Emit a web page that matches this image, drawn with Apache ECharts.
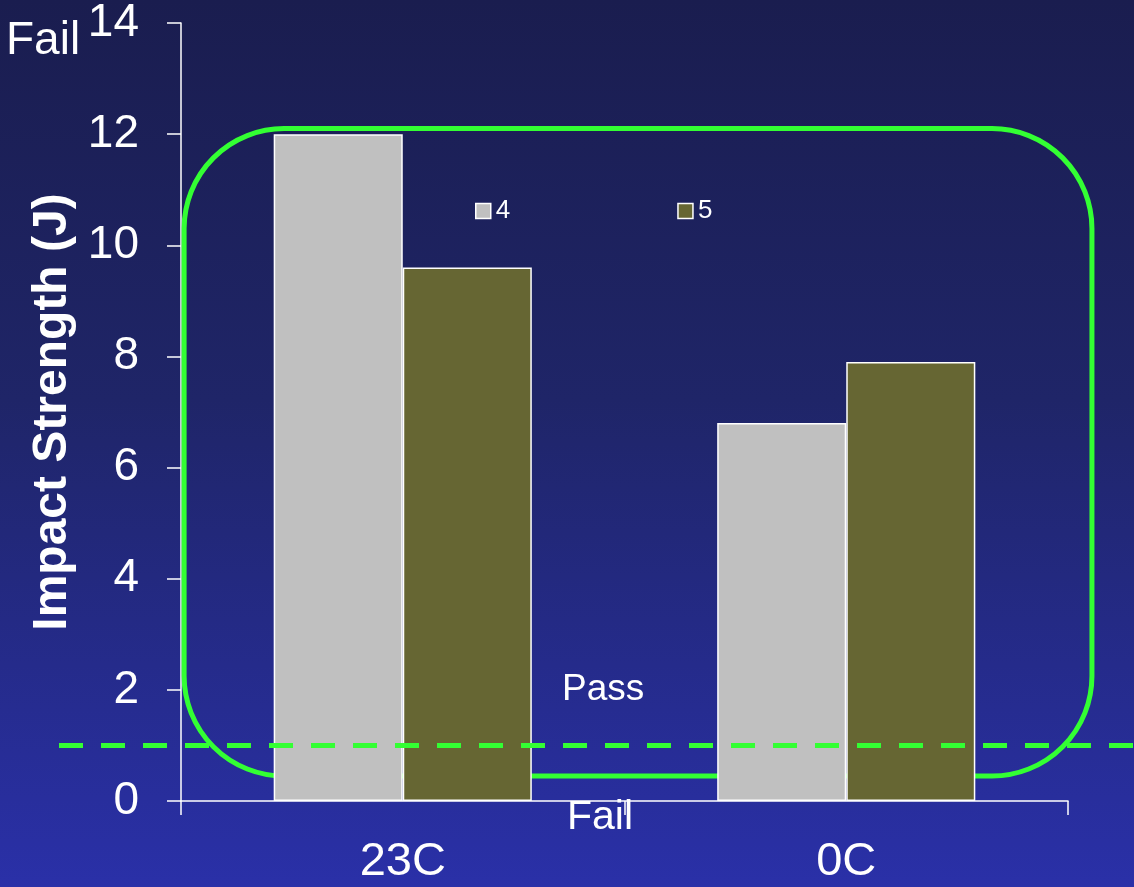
<!DOCTYPE html>
<html>
<head>
<meta charset="utf-8">
<script src="https://cdn.jsdelivr.net/npm/echarts@6/dist/echarts.min.js"></script>
<style>
  html, body { margin: 0; padding: 0; }
  #chart { width: 1134px; height: 887px; background: linear-gradient(to bottom, #1a1d4f 0%, #1f2568 45%, #2a30a8 100%); }
</style>
</head>
<body>
<div id="chart"></div>
<script>
// Impact strength by test temperature
const categories = ['23C', '0C'];
const seriesNames = ['4', '5'];
const series4 = [12.0, 6.8];
const series5 = [9.6, 7.9];
const yTicks = { min: 0, max: 14, interval: 2 };
const passLimit = 1;               // J, pass/fail threshold
// highlighted region, in axis units (category index, J)
const regionX = [-0.493, 1.554];
const regionY = [0.45, 12.1];

const FONT = '"Liberation Sans", Arial, sans-serif';
const GREEN = '#33ff33';

const chart = echarts.init(document.getElementById('chart'), null, { renderer: 'canvas' });

const barStyle = (color) => ({ color: color, borderColor: '#ffffff', borderWidth: 1.5 });

chart.setOption({
  animation: false,
  backgroundColor: 'transparent',
  textStyle: { fontFamily: FONT },
  grid: { left: 181, right: 66, top: 21, bottom: 86, containLabel: false },
  legend: {
    left: 470, top: 193,
    itemWidth: 15, itemHeight: 15, itemGap: 167,
    icon: 'rect',
    itemStyle: { borderColor: '#ffffff', borderWidth: 1.5 },
    textStyle: { color: '#ffffff', fontSize: 26, fontFamily: FONT },
    data: seriesNames
  },
  xAxis: {
    type: 'category',
    data: categories,
    axisLine: { lineStyle: { color: '#ffffff', width: 1.5 } },
    axisTick: { show: true, length: 14, lineStyle: { color: '#ffffff', width: 1.5 } },
    axisLabel: { color: '#ffffff', fontSize: 47, fontFamily: FONT, margin: 38 }
  },
  yAxis: {
    type: 'value',
    min: yTicks.min, max: yTicks.max, interval: yTicks.interval,
    name: 'Impact Strength (J)',
    nameLocation: 'middle',
    nameGap: 92,
    nameTextStyle: { color: '#ffffff', fontSize: 48, fontWeight: 'bold', fontFamily: FONT },
    axisLine: { show: true, lineStyle: { color: '#ffffff', width: 1.5 } },
    axisTick: { show: true, length: 14, lineStyle: { color: '#ffffff', width: 1.5 } },
    splitLine: { show: false },
    axisLabel: { color: '#ffffff', fontSize: 46, fontFamily: FONT, margin: 42 }
  },
  series: [
    {
      name: seriesNames[0], type: 'bar', data: series4,
      barGap: '0%', barCategoryGap: '41.8%',
      itemStyle: barStyle('#c0c0c0'), z: 5
    },
    {
      name: seriesNames[1], type: 'bar', data: series5,
      itemStyle: barStyle('#666633'), z: 5
    }
  ]
});

// Annotations placed through the axes' own scales
function drawAnnotations() {
  // category axis: interpolate between the pixel centres of the first two categories
  const c0 = chart.convertToPixel({ xAxisIndex: 0 }, categories[0]);
  const c1 = chart.convertToPixel({ xAxisIndex: 0 }, categories[1]);
  const xPix = (v) => c0 + (c1 - c0) * v;
  const yPix = (v) => chart.convertToPixel({ yAxisIndex: 0 }, v);
  const x0 = xPix(regionX[0]), x1 = xPix(regionX[1]);
  const yTop = yPix(regionY[1]), yBot = yPix(regionY[0]);
  const yLimit = yPix(passLimit);
  const W = chart.getWidth();
  chart.setOption({
    graphic: [
      {
        type: 'rect', z: 1, silent: true,
        shape: { x: x0, y: yTop, width: x1 - x0, height: yBot - yTop, r: 100 },
        style: { fill: 'none', stroke: GREEN, lineWidth: 5 }
      },
      {
        type: 'line', z: 100, silent: true,
        shape: { x1: 59, y1: yLimit, x2: W, y2: yLimit },
        style: { stroke: GREEN, lineWidth: 5, lineDash: [24, 18] }
      },
      {
        type: 'text', z: 100, left: 562, top: 671,
        style: { text: 'Pass', fill: '#ffffff', font: '37px ' + FONT }
      },
      {
        type: 'text', z: 100, left: 567, top: 797,
        style: { text: 'Fail', fill: '#ffffff', font: '41px ' + FONT }
      },
      {
        type: 'text', z: 100, left: 6, top: 18,
        style: { text: 'Fail', fill: '#ffffff', font: '46px ' + FONT }
      }
    ]
  });
}
drawAnnotations();
</script>
</body>
</html>
